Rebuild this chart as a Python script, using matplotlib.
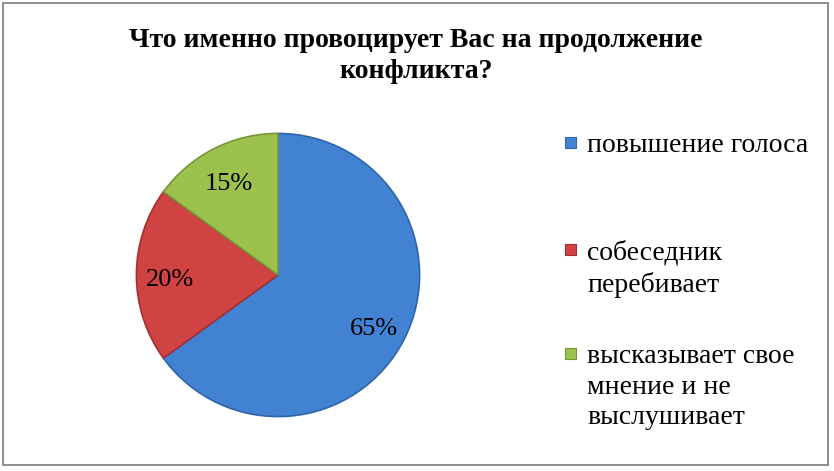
import matplotlib
matplotlib.use("Agg")
import matplotlib.pyplot as plt
from matplotlib.patches import Rectangle

title = "Что именно провоцирует Вас на продолжение\nконфликта?"
categories = ["повышение голоса", "собеседник\nперебивает", "высказывает свое\nмнение и не\nвыслушивает"]
values = [65, 20, 15]
colors = ["#4282D3", "#D04343", "#9CC24D"]
edges = ["#2F64A8", "#A33030", "#76963A"]

W, H = 834, 471
fig = plt.figure(figsize=(W / 100, H / 100), dpi=100)
fig.patch.set_facecolor("white")
serif = ["Liberation Serif", "DejaVu Serif"]

# border
fig.add_artist(Rectangle((3 / W, (H - 465) / H), 825 / W, 462 / H, transform=fig.transFigure,
                         fill=False, ec="#868686", lw=1.3))

# title
fig.text(416 / W, 1 - 28 / H, title, ha="center", va="top", fontsize=20,
         fontweight="bold", family=serif, linespacing=1.3)

# pie
cx, cy, r = 278, 275, 143
ax = fig.add_axes([(cx - r) / W, (H - cy - r) / H, 2 * r / W, 2 * r / H])
wedges, texts, autotexts = ax.pie(values, colors=colors, startangle=90, counterclock=False,
                                  autopct="%d%%", pctdistance=0.76,
                                  wedgeprops=dict(linewidth=1.2),
                                  textprops=dict(fontsize=19, family=serif, color="black"))
for w, e in zip(wedges, edges):
    w.set_edgecolor(e)
for t in autotexts:
    x, y = t.get_position()
    t.set_position((x, y - 5 / r))
ax.set_xlim(-1.01, 1.01)
ax.set_ylim(-1.01, 1.01)
ax.set_aspect("equal")

# legend (manual placement to match the reference spacing)
first_line_y = [144, 251, 355]
for cat, col, e, yc in zip(categories, colors, edges, first_line_y):
    fig.add_artist(Rectangle((565 / W, (H - yc - 4) / H), 11 / W, 11 / H, transform=fig.transFigure,
                             fc=col, ec=e, lw=0.8))
    fig.text(587 / W, 1 - (yc - 11) / H, cat, ha="left", va="top", fontsize=20, family=serif,
             linespacing=1.3)

fig.savefig("out.png", dpi=100)
